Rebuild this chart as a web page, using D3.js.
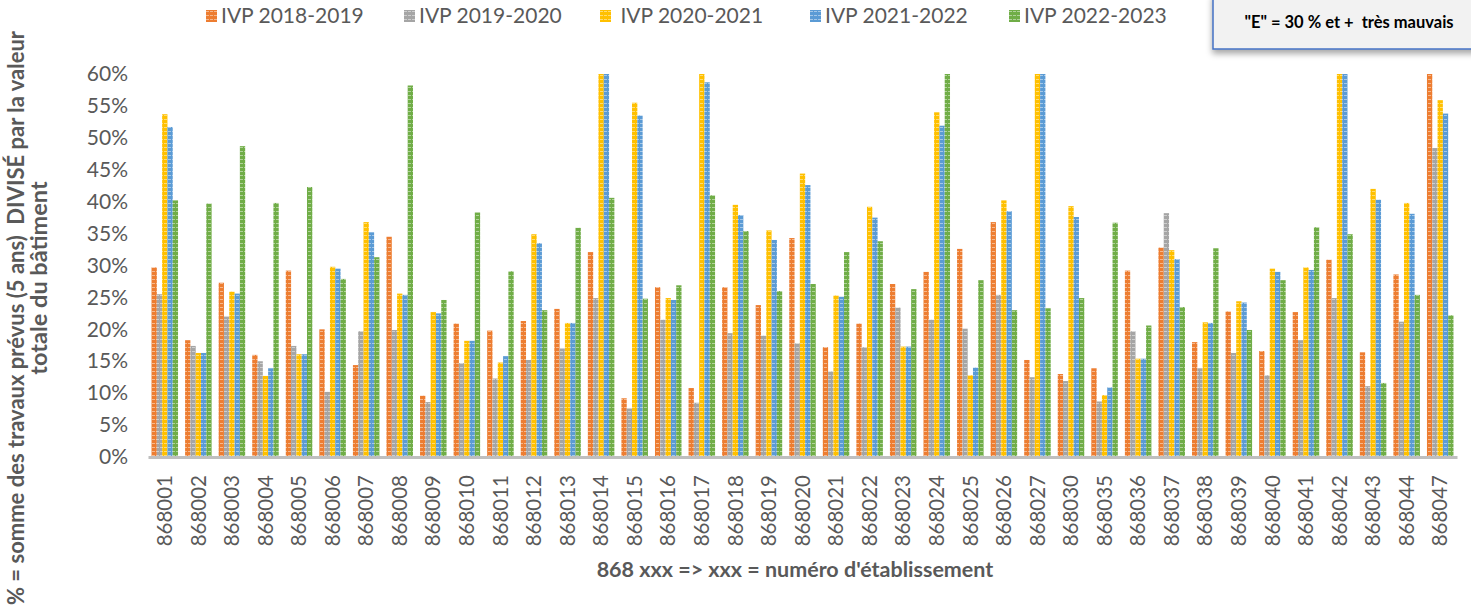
<!DOCTYPE html>
<html>
<head>
<meta charset="utf-8">
<script src="https://cdnjs.cloudflare.com/ajax/libs/d3/7.8.5/d3.min.js"></script>
<style>
  body { margin: 0; background: #fff; }
  svg { display: block; font-family: Lato, "Open Sans", sans-serif; }
</style>
</head>
<body>
<svg id="chart" width="1471" height="610"></svg>
<script>
// Categories (numéro d'établissement)
let categories = [
  '868001', '868002', '868003', '868004', '868005', '868006', '868007', '868008', '868009', '868010',
  '868011', '868012', '868013', '868014', '868015', '868016', '868017', '868018', '868019', '868020',
  '868021', '868022', '868023', '868024', '868025', '868026', '868027', '868030', '868035', '868036',
  '868037', '868038', '868039', '868040', '868041', '868042', '868043', '868044', '868047'
]
// Series names for the legend
let seriesNames = ['IVP 2018-2019', 'IVP 2019-2020', ' IVP 2020-2021', 'IVP 2021-2022', 'IVP 2022-2023']
// Values in % (bars over 60 % are cut at the top of the axis)
let ivp1819 = [29.7, 18.3, 27.3, 16.0, 29.2, 20.0, 14.4, 34.5, 9.6, 20.9,
  19.8, 21.3, 23.2, 32.1, 9.2, 26.6, 10.8, 26.6, 23.8, 34.3,
  17.2, 20.9, 27.1, 29.0, 32.6, 36.8, 15.2, 13.0, 13.9, 29.2,
  32.8, 18.0, 22.8, 16.6, 22.7, 30.9, 16.4, 28.6, 60]
let ivp1920 = [25.5, 17.4, 22.0, 15.0, 17.4, 10.2, 19.7, 19.9, 8.6, 14.7,
  12.3, 15.2, 17.0, 24.9, 7.6, 21.5, 8.5, 19.4, 19.0, 17.8,
  13.4, 17.2, 23.4, 21.5, 20.1, 25.4, 12.5, 11.9, 8.7, 19.7,
  38.2, 13.9, 16.3, 12.8, 18.3, 24.9, 11.1, 21.2, 48.4]
let ivp2021 = [53.7, 16.3, 25.9, 12.7, 16.1, 29.8, 36.8, 25.6, 22.7, 18.2,
  14.8, 34.9, 21.0, 60, 55.5, 24.9, 60, 39.5, 35.5, 44.4,
  25.3, 39.2, 17.3, 54.0, 12.8, 40.2, 60, 39.3, 9.7, 15.4,
  32.4, 21.1, 24.4, 29.5, 29.7, 60, 42.0, 39.8, 55.9]
let ivp2122 = [51.7, 16.3, 25.6, 13.9, 16.1, 29.5, 35.2, 25.4, 22.5, 18.2,
  15.8, 33.5, 21.0, 60, 53.5, 24.6, 58.7, 37.9, 34.0, 42.6,
  25.1, 37.5, 17.3, 51.9, 14.0, 38.5, 60, 37.6, 10.9, 15.4,
  31.0, 21.0, 24.2, 29.0, 29.3, 60, 40.3, 38.1, 53.8]
let ivp2223 = [40.2, 39.7, 48.7, 39.8, 42.3, 27.9, 31.3, 58.2, 24.6, 38.3,
  29.1, 23.0, 35.9, 40.6, 24.8, 26.9, 41.0, 35.4, 26.0, 27.1,
  32.1, 33.8, 26.3, 60, 27.7, 23.0, 23.3, 24.9, 36.7, 20.6,
  23.5, 32.7, 19.9, 27.7, 36.0, 34.9, 11.6, 25.4, 22.2]
// Y axis ticks
let yTicks = [0, 5, 10, 15, 20, 25, 30, 35, 40, 45, 50, 55, 60]

let allSeries = [ivp1819, ivp1920, ivp2021, ivp2122, ivp2223]
let colors = ['#ED7D31', '#A5A5A5', '#FFC000', '#5B9BD5', '#70AD47']
let textGray = '#595959'

let svg = d3.select('#chart')

// striped fill patterns like the Excel bars
let defs = svg.append('defs')
colors.forEach((c, i) => {
  let p = defs.append('pattern')
    .attr('id', 'pat' + i)
    .attr('patternUnits', 'userSpaceOnUse')
    .attr('width', 4)
    .attr('height', 4)
  p.append('rect').attr('width', 4).attr('height', 4).attr('fill', c)
  p.append('rect').attr('x', 0).attr('y', 3).attr('width', 3).attr('height', 1)
    .attr('fill', '#fff').attr('opacity', 0.45)
})
let shadow = defs.append('filter').attr('id', 'shadow')
  .attr('x', '-10%').attr('y', '-10%').attr('width', '130%').attr('height', '160%')
shadow.append('feDropShadow')
  .attr('dx', 0).attr('dy', 4).attr('stdDeviation', 3)
  .attr('flood-color', '#000').attr('flood-opacity', 0.35)

// scales
let x = d3.scaleBand().domain(categories).range([148, 1457]).paddingInner(0.21).paddingOuter(0.105)
let xs = d3.scaleBand().domain(d3.range(allSeries.length)).range([0, x.bandwidth()])
let y = d3.scaleLinear().domain([0, 60]).range([457, 74]).clamp(true)

// bars
allSeries.forEach((values, si) => {
  svg.append('g')
    .selectAll('rect')
    .data(values)
    .join('rect')
    .attr('x', (d, i) => x(categories[i]) + xs(si))
    .attr('width', xs.bandwidth())
    .attr('y', d => y(d))
    .attr('height', d => y(0) - y(d))
    .attr('fill', `url(#pat${si})`)
})

// y axis
let yAxis = svg.append('g')
  .attr('transform', 'translate(128,0)')
  .call(d3.axisLeft(y).tickValues(yTicks).tickSize(0).tickPadding(0).tickFormat(d => d + '%'))
yAxis.select('.domain').remove()
yAxis.selectAll('text')
  .attr('fill', textGray)
  .style('font-size', '21px')
  .style('font-family', 'Lato, sans-serif')

// x axis
let xAxis = svg.append('g')
  .attr('transform', 'translate(0,457)')
  .call(d3.axisBottom(x).tickSize(0).tickPadding(0))
xAxis.select('.domain')
  .attr('stroke', '#BFBFBF')
  .attr('stroke-width', 3)
xAxis.selectAll('text')
  .attr('fill', textGray)
  .attr('transform', 'rotate(-90)')
  .attr('x', -18)
  .attr('y', 0)
  .attr('dy', '0.35em')
  .attr('text-anchor', 'end')
  .style('font-size', '20.5px')
  .style('font-family', 'Lato, sans-serif')

// axis titles
svg.append('text')
  .attr('transform', 'translate(24,318) rotate(-90)')
  .attr('text-anchor', 'middle')
  .attr('fill', textGray)
  .style('font-weight', 'bold')
  .style('font-size', '22px')
  .attr('xml:space', 'preserve')
  .text('% = somme des travaux prévus (5 ans)  DIVISÉ par la valeur')
svg.append('text')
  .attr('transform', 'translate(47,278) rotate(-90)')
  .attr('text-anchor', 'middle')
  .attr('fill', textGray)
  .style('font-weight', 'bold')
  .style('font-size', '23.5px')
  .text('totale du bâtiment')
svg.append('text')
  .attr('x', 795)
  .attr('y', 577)
  .attr('text-anchor', 'middle')
  .attr('fill', textGray)
  .style('font-weight', 'bold')
  .style('font-size', '21.5px')
  .text("868 xxx => xxx = numéro d'établissement")

// legend
let legendX = [206, 404, 600, 810, 1009]
let legend = svg.append('g')
seriesNames.forEach((name, i) => {
  let g = legend.append('g').attr('transform', `translate(${legendX[i]},0)`)
  g.append('rect')
    .attr('x', 0).attr('y', 10)
    .attr('width', 11).attr('height', 12)
    .attr('fill', `url(#pat${i})`)
  g.append('text')
    .attr('x', 15).attr('y', 16)
    .attr('dy', '0.35em')
    .attr('fill', textGray)
    .style('font-size', '21px')
    .attr('xml:space', 'preserve')
    .text(name)
})

// note box top right
svg.append('rect')
  .attr('x', 1213).attr('y', -6)
  .attr('width', 270).attr('height', 55)
  .attr('fill', '#F2F2F2')
  .attr('stroke', '#4472C4')
  .attr('stroke-width', 1.5)
  .attr('filter', 'url(#shadow)')
svg.append('text')
  .attr('x', 1349).attr('y', 28)
  .attr('text-anchor', 'middle')
  .style('font-weight', 'bold')
  .style('font-size', '16.5px')
  .attr('fill', '#000')
  .attr('xml:space', 'preserve')
  .text('"E" = 30 % et +  très mauvais')
</script>
</body>
</html>
